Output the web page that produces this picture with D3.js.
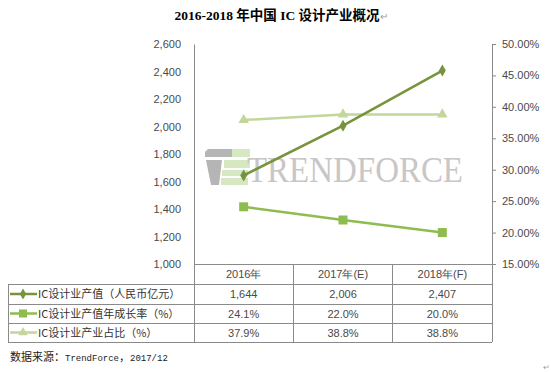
<!DOCTYPE html>
<html><head><meta charset="utf-8">
<script src="https://cdn.jsdelivr.net/npm/d3@7"></script>
<style>body{margin:0;background:#fff}svg{display:block}</style>
</head><body>
<svg id="c" width="551" height="372"></svg>
<script>
const categories = ["2016年", "2017年(E)", "2018年(F)"];
const outputValues = [1644, 2006, 2407];      // IC设计业产值（人民币亿元）
const growthValues = [24.1, 22.0, 20.0];      // 年成长率 %
const shareValues = [37.9, 38.8, 38.8];       // 产业占比 %
const leftTicks = [1000, 1200, 1400, 1600, 1800, 2000, 2200, 2400, 2600];
const rightTicks = [15, 20, 25, 30, 35, 40, 45, 50];
const seriesNames = ["IC设计业产值（人民币亿元）", "IC设计业产值年成长率（%）", "IC设计业产业占比（%）"];
const tableRows = [
  ["1,644", "2,006", "2,407"],
  ["24.1%", "22.0%", "20.0%"],
  ["37.9%", "38.8%", "38.8%"]
];

const svg = d3.select("#c");
const L = 194, R = 492, T = 44, B = 264;
const x = d3.scaleBand().domain(categories).range([L, R]);
const yL = d3.scaleLinear().domain([1000, 2600]).range([B, T]);
const yR = d3.scaleLinear().domain([15, 50]).range([B, T]);
const colors = ["#77933c", "#8fbc4f", "#c3d69b"];
const axisGray = "#8a8a8a";
const textCol = "#4a4a4a";

// Title
const title = svg.append("text").attr("x", 281).attr("y", 20).attr("text-anchor", "middle")
  .attr("font-family", "'Liberation Serif','Noto Sans CJK SC',serif").attr("font-weight", "bold")
  .attr("font-size", 13.5).attr("fill", "#000");
title.append("tspan").text("2016-2018 年中国 IC 设计产业概况");
title.append("tspan").attr("fill", "#a0a0a0").attr("font-weight", "normal").attr("font-size", 10).text("↵");

// Watermark
const wm = svg.append("g");
wm.append("path").attr("d", "M208,149 L232,149 L232,157 L205,157 L205,152 Z").attr("fill", "#b5b5b5");
wm.append("path").attr("d", "M206,160 L222,160 L219,185 L211,185 Z").attr("fill", "#b5b5b5");
wm.append("rect").attr("x", 232).attr("y", 149).attr("width", 18).attr("height", 8).attr("fill", "#d6e8c2");
wm.append("rect").attr("x", 224).attr("y", 160).attr("width", 26).attr("height", 8).attr("fill", "#d6e8c2");
wm.append("rect").attr("x", 222).attr("y", 170).attr("width", 26).attr("height", 6).attr("fill", "#d6e8c2");
wm.append("rect").attr("x", 221).attr("y", 178).attr("width", 27).attr("height", 7).attr("fill", "#d6e8c2");
wm.append("text").attr("x", 247).attr("y", 182).attr("font-family", "'Liberation Serif',serif")
  .attr("font-size", 36).attr("fill", "#c9c6c6").attr("textLength", 216).attr("lengthAdjust", "spacingAndGlyphs")
  .text("TRENDFORCE");

// Left axis
const gL = svg.append("g").attr("transform", `translate(${L},0)`)
  .call(d3.axisLeft(yL).tickValues(leftTicks).tickSize(0).tickPadding(13).tickFormat(d3.format(",")));
gL.select(".domain").attr("stroke", axisGray);
gL.selectAll("text").attr("font-family", "'Liberation Sans',sans-serif").attr("font-size", 11).attr("fill", textCol);

// Right axis
const gR = svg.append("g").attr("transform", `translate(${R},0)`)
  .call(d3.axisRight(yR).tickValues(rightTicks).tickSizeInner(4).tickSizeOuter(0).tickPadding(6).tickFormat(d => d.toFixed(2) + "%"));
gR.select(".domain").attr("stroke", axisGray);
gR.selectAll("line").attr("stroke", axisGray);
gR.selectAll("text").attr("font-family", "'Liberation Sans',sans-serif").attr("font-size", 11).attr("fill", textCol);

// Table grid
const rowY = [264, 284, 304, 323, 342];
const grid = svg.append("g").attr("stroke", axisGray).attr("stroke-width", 1).attr("shape-rendering", "crispEdges");
grid.append("line").attr("x1", L).attr("x2", R).attr("y1", rowY[0]).attr("y2", rowY[0]);
rowY.slice(1).forEach(y => grid.append("line").attr("x1", 8).attr("x2", R).attr("y1", y).attr("y2", y));
grid.append("line").attr("x1", 8).attr("x2", 8).attr("y1", rowY[1]).attr("y2", rowY[4]);
[L, ...categories.map(c => x(c) + x.bandwidth())].forEach(xx =>
  grid.append("line").attr("x1", xx).attr("x2", xx).attr("y1", rowY[0]).attr("y2", rowY[4]));

const tf = "'Liberation Sans',sans-serif";
// Header
svg.append("g").selectAll("text").data(categories).join("text")
  .attr("x", d => x(d) + x.bandwidth() / 2).attr("y", (rowY[0] + rowY[1]) / 2 + 4)
  .attr("text-anchor", "middle").attr("font-family", tf).attr("font-size", 11).attr("fill", textCol).text(d => d);
// Values
tableRows.forEach((row, i) => {
  svg.append("g").selectAll("text").data(row).join("text")
    .attr("x", (d, j) => x(categories[j]) + x.bandwidth() / 2).attr("y", (rowY[i + 1] + rowY[i + 2]) / 2 + 4)
    .attr("text-anchor", "middle").attr("font-family", tf).attr("font-size", 11).attr("fill", textCol).text(d => d);
});

function marker(g, type, cx, cy, color, scale) {
  if (type === 0) {
    g.append("path").attr("d", d3.symbol(d3.symbolDiamond, 42 * scale)()).attr("transform", `translate(${cx},${cy})`).attr("fill", color);
  } else if (type === 1) {
    const s = 9 * Math.sqrt(scale);
    g.append("rect").attr("x", cx - s / 2).attr("y", cy - s / 2).attr("width", s).attr("height", s).attr("fill", color);
  } else {
    g.append("path").attr("d", d3.symbol(d3.symbolTriangle, 48 * scale)()).attr("transform", `translate(${cx},${cy})`).attr("fill", color);
  }
}

// Legend rows
seriesNames.forEach((name, i) => {
  const cy = (rowY[i + 1] + rowY[i + 2]) / 2;
  const g = svg.append("g");
  g.append("line").attr("x1", 10).attr("x2", 37).attr("y1", cy).attr("y2", cy).attr("stroke", colors[i]).attr("stroke-width", 2.5);
  marker(g, i, 23, cy, colors[i], 0.8);
  g.append("text").attr("x", 38).attr("y", cy + 4).attr("font-family", "'Noto Sans CJK SC',sans-serif")
    .attr("font-size", 11).attr("fill", "#333").text(name);
});

// Series lines
const series = [
  {vals: outputValues, y: yL},
  {vals: growthValues, y: yR},
  {vals: shareValues, y: yR}
];
const cx = c => x(c) + x.bandwidth() / 2;
[2, 1, 0].forEach(i => {
  const s = series[i];
  const g = svg.append("g");
  g.append("path").datum(s.vals).attr("fill", "none").attr("stroke", colors[i]).attr("stroke-width", 2.5)
    .attr("d", d3.line().x((d, j) => cx(categories[j])).y(d => s.y(d)));
  s.vals.forEach((v, j) => marker(g, i, cx(categories[j]), s.y(v), colors[i], 1));
});

// Footer
const ft = svg.append("text").attr("x", 10).attr("y", 361).attr("fill", "#222");
ft.append("tspan").attr("font-family", "'Noto Sans CJK SC',sans-serif").attr("font-size", 11).text("数据来源：");
ft.append("tspan").attr("font-family", "'Liberation Mono',monospace").attr("font-size", 9).text("TrendForce");
ft.append("tspan").attr("font-family", "'Noto Sans CJK SC',sans-serif").attr("font-size", 11).text("，");
ft.append("tspan").attr("font-family", "'Liberation Mono',monospace").attr("font-size", 9).text("2017/12");
svg.append("text").attr("x", 543).attr("y", 370).attr("font-size", 8).attr("fill", "#a0a0a0").text("↵");
</script>
</body></html>
